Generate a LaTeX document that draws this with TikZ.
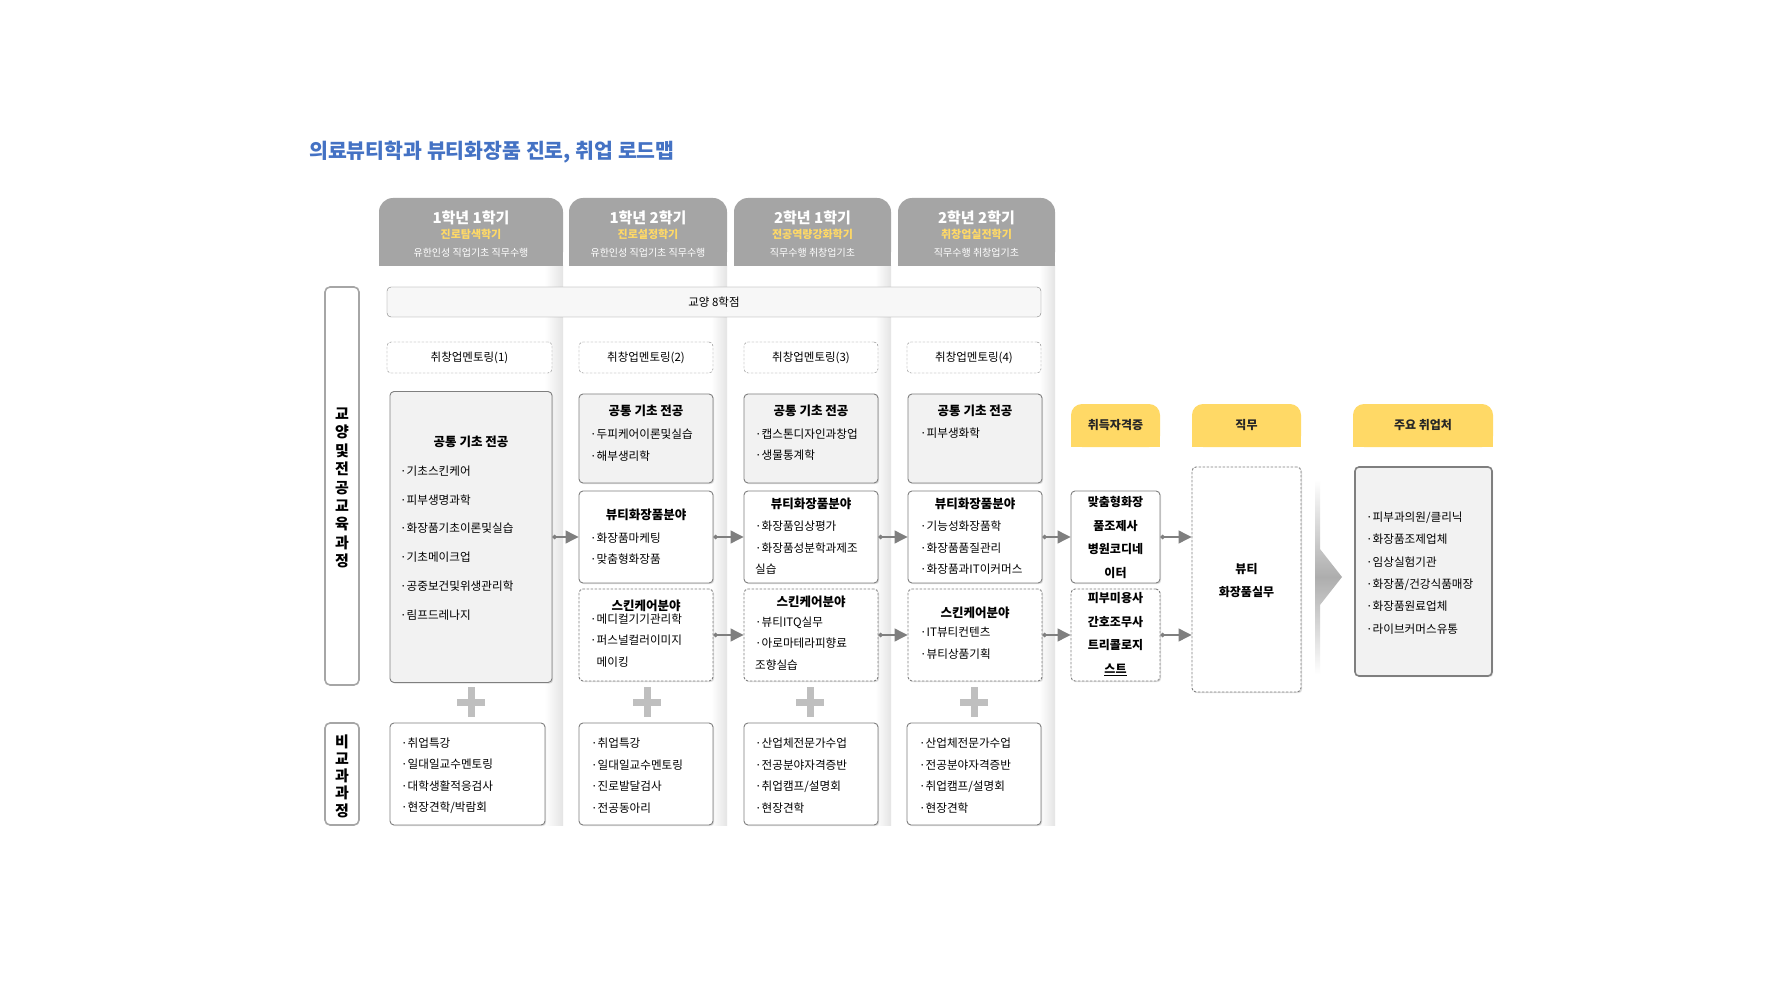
\documentclass[tikz,border=0pt]{standalone}
\usepackage{fontspec}
\setmainfont{Noto Sans CJK KR}
\usetikzlibrary{arrows.meta,shadows,positioning}
\definecolor{titleblue}{RGB}{68,114,196}
\definecolor{headgray}{RGB}{165,165,165}
\definecolor{headyellow}{RGB}{255,217,102}
\definecolor{boxgray}{RGB}{242,242,242}
\definecolor{linegray}{RGB}{127,127,127}
\definecolor{plusgray}{RGB}{191,191,191}
\definecolor{stripgray}{RGB}{228,228,228}
\pgfdeclarehorizontalshading{stripshade}{100bp}{color(0bp)=(white); color(25bp)=(white); color(70bp)=(white); color(75bp)=(stripgray); color(100bp)=(stripgray)}

\begin{document}
\begin{tikzpicture}
[x=1pt,y=-1pt,
  semhead/.style={fill=headgray,rounded corners=14pt,minimum height=68pt,inner sep=0pt},
  goalhead/.style={fill=headyellow,rounded corners=11pt,minimum height=43pt,inner sep=0pt},
  semtitle/.style={text=white,font=\bfseries\fontsize{15}{17}\selectfont,inner sep=0pt},
  semsub/.style={text=headyellow,font=\bfseries\fontsize{11}{13}\selectfont,inner sep=0pt},
  semgoal/.style={text=white,font=\fontsize{10}{12}\selectfont,inner sep=0pt},
  goaltext/.style={text=black!85,font=\bfseries\fontsize{12}{14}\selectfont,inner sep=0pt},
  sidebox/.style={draw=black!35,line width=1.6pt,rounded corners=5pt,fill=white,minimum width=34pt},
  sidetext/.style={align=center,font=\bfseries\fontsize{15}{18.4}\selectfont,inner sep=0pt},
  plainbox/.style={draw=linegray,fill=white,rounded corners=4pt,minimum height=31pt,
    font=\fontsize{11.5}{13}\selectfont},
  mentorbox/.style={plainbox,dash pattern=on 2.5pt off 1.5pt},
  corebox/.style={draw=linegray,fill=boxgray,rounded corners=4pt,line width=0.9pt,
    drop shadow={opacity=0.25,shadow xshift=1.2pt,shadow yshift=-1.2pt}},
  fieldbox/.style={corebox,fill=white},
  skinbox/.style={fieldbox,dash pattern=on 2.5pt off 1.5pt},
  boxtitle/.style={font=\bfseries\fontsize{12.5}{14}\selectfont,inner sep=0pt},
  itemlist/.style={anchor=west,align=left,inner sep=0pt,text=black,font=\fontsize{11.6}{21.5}\selectfont},
  certtext/.style={align=center,inner sep=0pt,font=\bfseries\fontsize{12}{23.8}\selectfont},
  flow/.style={{Circle[length=4.5pt]}-{Triangle[length=13pt,width=13pt]},draw=linegray,line width=1.1pt}]
\fill[white] (0,0) rectangle (1792,1008);
\useasboundingbox (0,0) rectangle (1792,1008);

\node[anchor=west,text=titleblue,font=\bfseries\fontsize{20.5}{24}\selectfont,inner sep=0pt]
  (title) at (309,152) {의료뷰티학과 뷰티화장품 진로, 취업 로드맵};

%% semester columns
\foreach \i/\x/\w/\yr/\sem/\goal in {
  1/471/184/1학년 1학기/진로탐색학기/유한인성 직업기초 직무수행,
  2/648/158/1학년 2학기/진로설정학기/유한인성 직업기초 직무수행,
  3/812.5/157/2학년 1학기/전공역량강화학기/직무수행 취창업기초,
  4/976.5/157/2학년 2학기/취창업실전학기/직무수행 취창업기초} {
  \shade[shading=stripshade] (\x-\w/2,266) rectangle (\x+\w/2,825);
  \node[semhead,minimum width=\w pt] (sem\i) at (\x,232) {};
  \fill[headgray] (sem\i.west) rectangle (sem\i.south east);
  \node[semtitle] (semt\i) at (\x,218) {\yr};
  \node[semsub] (sems\i) at (\x,234) {\sem};
  \node[semgoal] (semg\i) at (\x,253) {\goal};
}

%% side labels
\node[sidebox,minimum height=398pt] (side1) at (342,486) {};
\node[sidetext] (sidet1) at (342,488) {교\\양\\및\\전\\공\\교\\육\\과\\정};
\node[sidebox,minimum height=102pt] (side2) at (342,774) {};
\node[sidetext,font=\bfseries\fontsize{15}{17.3}\selectfont] (sidet2) at (342,776) {비\\교\\과\\과\\정};

%% general credits and mentoring
\node[plainbox,fill=black!3,minimum width=654pt,minimum height=30pt] (general) at (714,302) {교양 8학점};
\foreach \i/\x/\w in {1/469.5/165,2/646/134,3/811/134,4/974/134}
  \node[mentorbox,minimum width=\w pt] (mentor\i) at (\x,357.5) {취창업멘토링(\i)};

%% major courses
\node[corebox,minimum width=162pt,minimum height=291pt] (core1) at (471,537) {};
\node[boxtitle] (coret1) at (471,442) {공통 기초 전공};
\node[itemlist,font=\fontsize{11.6}{28.8}\selectfont] (corel1) at (400,543)
  {·기초스킨케어\\·피부생명과학\\·화장품기초이론및실습\\·기초메이크업\\·공중보건및위생관리학\\·림프드레나지};
\foreach \i/\x in {2/646,3/811,4/975} {
  \node[corebox,minimum width=134pt,minimum height=89pt] (core\i) at (\x,438.5) {};
  \node[boxtitle] (coret\i) at (\x,411) {공통 기초 전공};
  \node[fieldbox,minimum width=134pt,minimum height=92pt] (beauty\i) at (\x,537) {};
  \node[skinbox,minimum width=134pt,minimum height=92pt] (skin\i) at (\x,635) {};
}
\node[itemlist] (corel2) at (590,445) {·두피케어이론및실습\\·해부생리학};
\node[boxtitle] (beautyt2) at (646,515) {뷰티화장품분야};
\node[itemlist] (beautyl2) at (590,548.5) {·화장품마케팅\\·맞춤형화장품};
\node[boxtitle] (skint2) at (646,606) {스킨케어분야};
\node[itemlist] (skinl2) at (590,640.5) {·메디컬기기관리학\\·퍼스널컬러이미지\\\phantom{·}메이킹};

\node[itemlist] (corel3) at (755,444.5) {·캡스톤디자인과창업\\·생물통계학};
\node[boxtitle] (beautyt3) at (811,504) {뷰티화장품분야};
\node[itemlist] (beautyl3) at (755,548) {·화장품임상평가\\·화장품성분학과제조\\실습};
\node[boxtitle] (skint3) at (811,602) {스킨케어분야};
\node[itemlist] (skinl3) at (755,643.5) {·뷰티ITQ실무\\·아로마테라피향료\\조향실습};

\node[itemlist] (corel4) at (920,433) {·피부생화학};
\node[boxtitle] (beautyt4) at (975,504) {뷰티화장품분야};
\node[itemlist] (beautyl4) at (920,548) {·기능성화장품학\\·화장품품질관리\\·화장품과IT이커머스};
\node[boxtitle] (skint4) at (975,613) {스킨케어분야};
\node[itemlist] (skinl4) at (920,643) {·IT뷰티컨텐츠\\·뷰티상품기획};

%% plus signs
\foreach \x in {471,647,810,974} {
  \fill[plusgray] (\x-14,699) rectangle (\x+14,706);
  \fill[plusgray] (\x-3.5,687) rectangle (\x+3.5,717);
}

%% extracurricular
\foreach \i/\x/\w in {1/467.5/155,2/646/134,3/811/134,4/974/134}
  \node[fieldbox,minimum width=\w pt,minimum height=102pt] (extra\i) at (\x,774) {};
\node[itemlist] (extral1) at (401,775.5) {·취업특강\\·일대일교수멘토링\\·대학생활적응검사\\·현장견학/박람회};
\node[itemlist] (extral2) at (591,775.5) {·취업특강\\·일대일교수멘토링\\·진로발달검사\\·전공동아리};
\node[itemlist] (extral3) at (755,775.5) {·산업체전문가수업\\·전공분야자격증반\\·취업캠프/설명회\\·현장견학};
\node[itemlist] (extral4) at (919,775.5) {·산업체전문가수업\\·전공분야자격증반\\·취업캠프/설명회\\·현장견학};

%% certificates, job, employers
\foreach \i/\x/\w/\t in {1/1115.5/89/취득자격증,2/1246.5/109/직무,3/1423/140/주요 취업처} {
  \node[goalhead,minimum width=\w pt] (goal\i) at (\x,425.5) {};
  \fill[headyellow] (goal\i.west) rectangle (goal\i.south east);
  \node[goaltext] (goalt\i) at (\x,425.5) {\t};
}
\node[fieldbox,minimum width=89pt,minimum height=92pt] (cert1) at (1115.5,537) {};
\node[certtext] (certt1) at (1115.5,537.5) {맞춤형화장\\품조제사\\병원코디네\\이터};
\node[skinbox,minimum width=89pt,minimum height=92pt] (cert2) at (1115.5,635) {};
\node[certtext] (certt2) at (1115.5,634) {피부미용사\\간호조무사\\트리콜로지\\\underline{스트}};
\node[skinbox,minimum width=109pt,minimum height=225pt] (job) at (1246.5,579.5) {};
\node[certtext,font=\bfseries\fontsize{12}{23}\selectfont] (jobt) at (1246.5,580.5) {뷰티\\화장품실무};
\shade[top color=white,bottom color=white,middle color=black!32]
  (1315,480) -- (1320,480) -- (1320,549) -- (1342,577) -- (1320,605) -- (1320,674) -- (1315,674) -- cycle;
\node[corebox,line width=1.6pt,minimum width=137pt,minimum height=209pt] (work) at (1423.5,571.5) {};
\node[itemlist,font=\fontsize{11.6}{22.4}\selectfont] (workl) at (1366,573)
  {·피부과의원/클리닉\\·화장품조제업체\\·임상실험기관\\·화장품/건강식품매장\\·화장품원료업체\\·라이브커머스유통};

%% flow arrows
\path
\foreach \startnode/\endnode in {core1/beauty2, beauty2/beauty3, skin2/skin3,
  beauty3/beauty4, skin3/skin4, beauty4/cert1, skin4/cert2} {
  (\startnode.east) edge[flow] (\endnode.west)
};
\draw[flow] (cert1.east) -- (cert1.east -| job.west);
\draw[flow] (cert2.east) -- (cert2.east -| job.west);
\end{tikzpicture}
\end{document}
